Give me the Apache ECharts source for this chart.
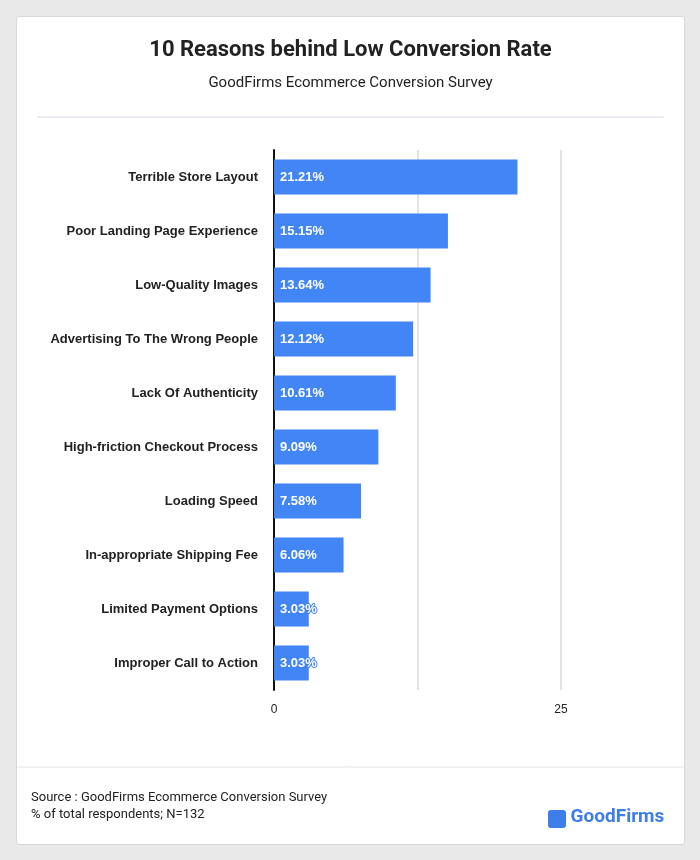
<!DOCTYPE html>
<html><head><meta charset="utf-8">
<script src="https://cdn.jsdelivr.net/npm/echarts@6/dist/echarts.min.js"></script>
<style>
body{margin:0;background:#e9e9e9;font-family:Roboto,sans-serif}
#card{position:absolute;left:16px;top:16px;width:667px;height:827px;background:#fff;border:1px solid #d8d8d8;border-radius:3px}
#chart{position:absolute;left:0;top:0;width:667px;height:827px}
</style></head><body>
<div id="card"><div id="chart"></div></div>
<script>
var categories=['Terrible Store Layout','Poor Landing Page Experience','Low-Quality Images','Advertising To The Wrong People','Lack Of Authenticity','High-friction Checkout Process','Loading Speed','In-appropriate Shipping Fee','Limited Payment Options','Improper Call to Action'];
var values=[21.21,15.15,13.64,12.12,10.61,9.09,7.58,6.06,3.03,3.03];

var chart=echarts.init(document.getElementById('chart'));
chart.setOption({
  graphic:[
    {type:'text',left:'center',top:22,style:{text:'10 Reasons behind Low Conversion Rate',font:'bold 22px Roboto',fill:'#222'}},
    {type:'text',left:'center',top:59,style:{text:'GoodFirms Ecommerce Conversion Survey',font:'15px Roboto',fill:'#222'}},
    {type:'line',shape:{x1:20,y1:100,x2:647,y2:100},style:{stroke:'#d8d8ee',lineWidth:1}},
    {type:'line',shape:{x1:0,y1:750,x2:667,y2:750},style:{stroke:'#e6e6e6',lineWidth:1}},
    {type:'text',left:14,top:772,style:{text:'Source : GoodFirms Ecommerce Conversion Survey\n% of total respondents; N=132',font:'13px Roboto',fill:'#222',lineHeight:17}},
    {type:'rect',shape:{x:531,y:793,width:18,height:18,r:3},style:{fill:'#3d7eea'}},
    {type:'text',left:530,top:791,style:{text:'\u00a0\u00a0\u00a0\u00a0\u00a0GoodFirms',font:'bold 19px Roboto',fill:'#3d7eea'}}
  ],
  grid:{left:257,top:133,width:287,height:540},
  xAxis:{type:'value',min:0,max:25,interval:12.5,
    axisLabel:{formatter:function(v){return v%25===0?v:'';},color:'#222',fontSize:12,margin:14},
    splitLine:{show:true,lineStyle:{color:'#e3e3e3',width:2}},
    axisLine:{show:false},axisTick:{show:false}},
  yAxis:{type:'category',data:categories,inverse:true,
    axisLine:{lineStyle:{color:'#111',width:2}},axisTick:{show:false},
    axisLabel:{color:'#222',fontWeight:'bold',fontSize:13,margin:16}},
  series:[{type:'bar',data:values,barWidth:35,itemStyle:{color:'#4285f4'},
    label:{show:true,position:'insideLeft',distance:6,formatter:'{c}%',color:'#fff',fontWeight:'bold',fontSize:13,
      textBorderColor:'#4285f4',textBorderWidth:2}}]
});
</script></body></html>
